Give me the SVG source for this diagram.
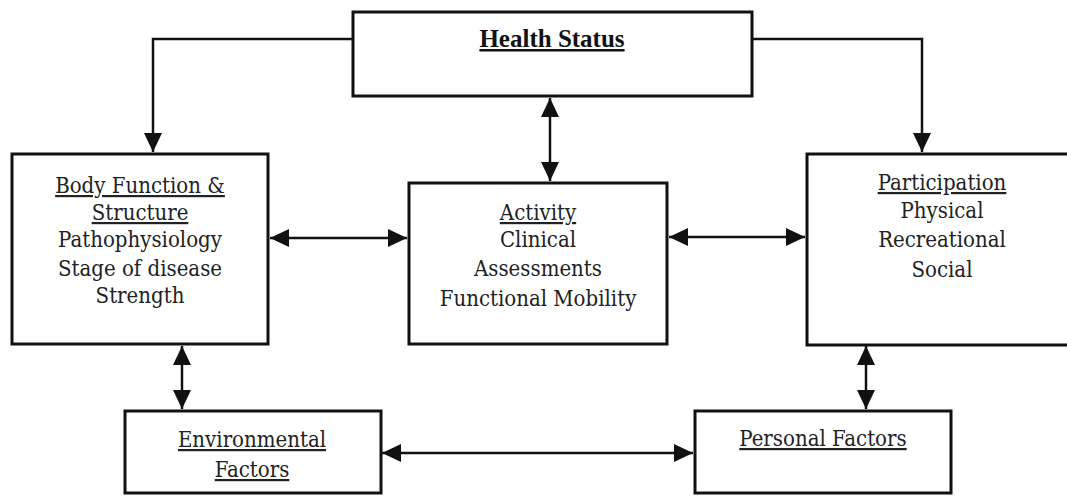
<svg xmlns="http://www.w3.org/2000/svg" width="1067" height="496" viewBox="0 0 1067 496">
<style>
.box{fill:#fff;stroke:#111;stroke-width:3}
.t{font-family:'DejaVu Serif Condensed','DejaVu Serif',serif;font-size:22px;fill:#222;text-anchor:middle}
.u{text-decoration:underline}
.b{font-family:'Liberation Serif',serif;font-size:25px;font-weight:700;fill:#111}
.c{fill:none;stroke:#111;stroke-width:2.5}
</style>
<defs>
<marker id="ah" markerUnits="userSpaceOnUse" markerWidth="20" markerHeight="18" refX="19" refY="9" orient="auto-start-reverse">
<path d="M0,0 L19,9 L0,18 Z" fill="#111"/>
</marker>
</defs>
<rect width="1067" height="496" fill="#fff"/>
<g id="connectors">
<path class="c" d="M353,39 H153 V152" marker-end="url(#ah)"/>
<path class="c" d="M752,39 H922 V152" marker-end="url(#ah)"/>
<path class="c" d="M550,98 V181" marker-start="url(#ah)" marker-end="url(#ah)"/>
<path class="c" d="M270,238 H407" marker-start="url(#ah)" marker-end="url(#ah)"/>
<path class="c" d="M669,237 H805" marker-start="url(#ah)" marker-end="url(#ah)"/>
<path class="c" d="M182,346 V409" marker-start="url(#ah)" marker-end="url(#ah)"/>
<path class="c" d="M866,346 V409" marker-start="url(#ah)" marker-end="url(#ah)"/>
<path class="c" d="M382,453 H693" marker-start="url(#ah)" marker-end="url(#ah)"/>
</g>
<g id="health-status">
<rect class="box" x="353" y="12" width="399" height="84"/>
<text class="t b u" x="552" y="47">Health Status</text>
</g>
<g id="body-function">
<rect class="box" x="12" y="154" width="256" height="190"/>
<text class="t" x="140"><tspan class="u" x="140" y="193">Body Function &amp;</tspan><tspan class="u" x="140" y="220">Structure</tspan><tspan x="140" y="247">Pathophysiology</tspan><tspan x="140" y="276">Stage of disease</tspan><tspan x="140" y="303">Strength</tspan></text>
</g>
<g id="activity">
<rect class="box" x="409" y="183" width="258" height="161"/>
<text class="t" x="538"><tspan class="u" x="538" y="220">Activity</tspan><tspan x="538" y="247">Clinical</tspan><tspan x="538" y="276">Assessments</tspan><tspan x="538" y="306">Functional Mobility</tspan></text>
</g>
<g id="participation">
<rect class="box" x="807" y="154" width="280" height="191"/>
<text class="t" x="942"><tspan class="u" x="942" y="190">Participation</tspan><tspan x="942" y="218">Physical</tspan><tspan x="942" y="247">Recreational</tspan><tspan x="942" y="277">Social</tspan></text>
</g>
<g id="environmental-factors">
<rect class="box" x="125" y="411" width="256" height="82"/>
<text class="t" x="252"><tspan class="u" x="252" y="447">Environmental</tspan><tspan class="u" x="252" y="477">Factors</tspan></text>
</g>
<g id="personal-factors">
<rect class="box" x="695" y="411" width="256" height="82"/>
<text class="t u" x="823" y="446">Personal Factors</text>
</g>
</svg>
